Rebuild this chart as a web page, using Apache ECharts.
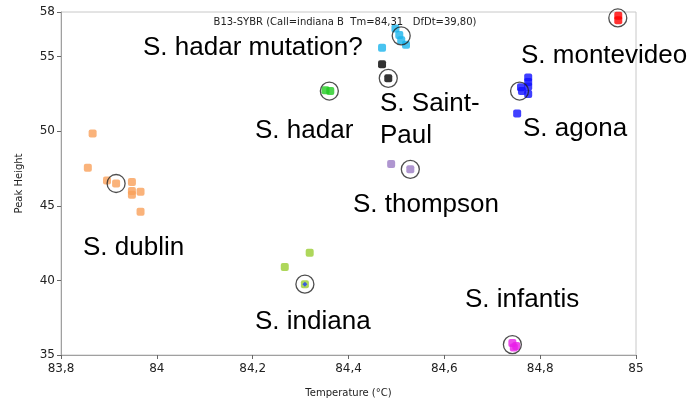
<!DOCTYPE html>
<html>
<meta charset="utf-8" />
<head>
  <script src="https://cdn.jsdelivr.net/npm/echarts@6.0.0/dist/echarts.min.js"></script>
  <style>
    html, body { margin: 0; padding: 0; background: #fff; }
    #chart { width: 691px; height: 402px; }
  </style>
</head>
<body>
  <div id="chart"></div>
  <script>
    // melt curve peaks per serovar, [temperature, peak height]
    const dublin = [[83.866, 49.85], [83.856, 47.55], [83.896, 46.7], [83.915, 46.5], [83.948, 46.6],
                    [83.948, 46.0], [83.948, 45.75], [83.966, 45.95], [83.966, 44.6]];
    const indiana = [[84.319, 41.85], [84.267, 40.9], [84.309, 39.75]];
    const hadar = [[84.352, 52.75], [84.362, 52.7]];
    const hadarMut = [[84.498, 56.9], [84.506, 56.45], [84.51, 56.1], [84.52, 55.8], [84.47, 55.6]];
    const saintPaul = [[84.47, 54.5], [84.483, 53.55]];
    const agona = [[84.775, 53.6], [84.775, 53.3], [84.775, 53.0], [84.76, 52.95], [84.762, 52.7],
                   [84.775, 52.5], [84.752, 51.2]];
    const thompson = [[84.489, 47.8], [84.529, 47.45]];
    const infantis = [[84.742, 35.8], [84.75, 35.6], [84.745, 35.5]];
    const montevideo = [[84.963, 57.75], [84.963, 57.45]];
    // highlighted samples (black rings)
    const circled = [[83.915, 46.5], [84.309, 39.75], [84.36, 52.7], [84.51, 56.4], [84.483, 53.55],
                     [84.757, 52.7], [84.529, 47.45], [84.742, 35.7], [84.962, 57.6]];
    const callPoint = [[84.309, 39.75]];

    const xTicks = [83.8, 84, 84.2, 84.4, 84.6, 84.8, 85];
    const yTicks = [35, 40, 45, 50, 55, 58];

    const labels = [
      { text: 'S. hadar mutation?', x: 143, y: 48 },
      { text: 'S. montevideo', x: 521, y: 56 },
      { text: 'S. Saint-', x: 380, y: 104 },
      { text: 'Paul', x: 380, y: 136 },
      { text: 'S. hadar', x: 255, y: 131 },
      { text: 'S. agona', x: 523, y: 129 },
      { text: 'S. thompson', x: 353, y: 205 },
      { text: 'S. dublin', x: 83, y: 248 },
      { text: 'S. indiana', x: 255, y: 322 },
      { text: 'S. infantis', x: 465, y: 300 }
    ];

    const groups = [
      { name: 'dublin', data: dublin, color: '#f9a05a' },
      { name: 'indiana', data: indiana, color: '#9acd32' },
      { name: 'hadar', data: hadar, color: '#22cc22' },
      { name: 'hadar mutation', data: hadarMut, color: '#1ab4ec' },
      { name: 'Saint-Paul', data: saintPaul, color: '#000000' },
      { name: 'agona', data: agona, color: '#1010ff' },
      { name: 'thompson', data: thompson, color: '#9b7cc4' },
      { name: 'infantis', data: infantis, color: '#e81ee8' },
      { name: 'montevideo', data: montevideo, color: '#ff0000' }
    ];

    const fmt = (v) => String(v).replace('.', ',');

    const series = groups.map((g) => ({
      type: 'scatter',
      name: g.name,
      data: g.data,
      symbol: 'roundRect',
      symbolSize: 8,
      itemStyle: { color: g.color },
      silent: true
    }));
    series.push({
      type: 'scatter',
      name: 'call',
      data: callPoint,
      symbol: 'diamond',
      symbolSize: 5,
      itemStyle: { color: '#2040ff' },
      z: 3,
      silent: true
    });
    series.push({
      type: 'scatter',
      name: 'selected',
      data: circled,
      symbol: 'circle',
      symbolSize: 18,
      itemStyle: { color: 'rgba(0,0,0,0)', borderColor: '#222', borderWidth: 1.3 },
      z: 4,
      silent: true
    });

    const axisFont = { fontFamily: 'DejaVu Sans', fontSize: 10, color: '#222' };

    const chart = echarts.init(document.getElementById('chart'));
    chart.setOption({
      animation: false,
      title: {
        text: 'B13-SYBR (Call=indiana B  Tm=84,31   DfDt=39,80)',
        left: 340,
        top: 12,
        textAlign: 'center',
        textStyle: { fontFamily: 'DejaVu Sans', fontSize: 10, fontWeight: 'normal', color: '#222' }
      },
      grid: {
        show: true,
        left: 61, right: 55, top: 12, bottom: 47,
        outerBoundsMode: 'none',
        containLabel: false,
        borderColor: '#c8c8c8', borderWidth: 1
      },
      xAxis: {
        type: 'value',
        min: xTicks[0],
        max: xTicks[xTicks.length - 1],
        interval: 0.2,
        name: 'Temperature (°C)',
        nameLocation: 'middle',
        nameGap: 33,
        nameTextStyle: axisFont,
        axisLine: { lineStyle: { color: '#a0a0a0' } },
        axisTick: { show: true, length: 4, lineStyle: { color: '#666' } },
        axisLabel: { ...axisFont, fontSize: 12, margin: 8, formatter: (v) => fmt(+v.toFixed(1)) },
        splitLine: { show: false }
      },
      yAxis: {
        type: 'value',
        min: yTicks[0],
        max: yTicks[yTicks.length - 1],
        interval: 5,
        name: 'Peak Height',
        nameLocation: 'middle',
        nameGap: 37,
        nameTextStyle: axisFont,
        axisLine: { show: true, lineStyle: { color: '#a0a0a0' } },
        axisTick: { show: true, length: 4, lineStyle: { color: '#666' } },
        axisLabel: { ...axisFont, fontSize: 12, margin: 6, showMaxLabel: true },
        splitLine: { show: false }
      },
      graphic: labels.map((l) => ({
        type: 'text',
        x: l.x,
        y: l.y,
        z: 10,
        style: {
          text: l.text,
          fontFamily: 'Liberation Sans',
          fontSize: 26,
          fill: '#000',
          verticalAlign: 'middle'
        }
      })),
      series
    });
  </script>
</body>
</html>
